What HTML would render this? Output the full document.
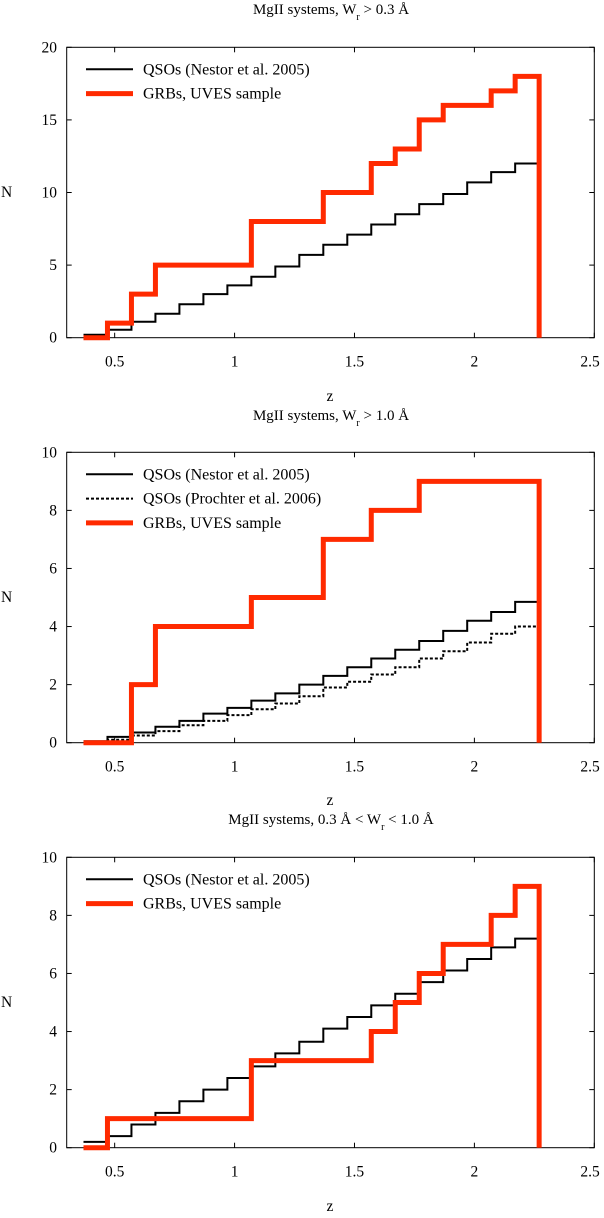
<!DOCTYPE html>
<html><head><meta charset="utf-8"><style>
body{margin:0;background:#fff}
svg text{font-family:"Liberation Serif",serif;fill:#000}
</style></head><body>
<svg id="s" width="604" height="1213" viewBox="0 0 604 1213"></svg>
<script>
const binEdgesStart = 0.37;
const binWidth = 0.1;
const xTicks = [0.5, 1, 1.5, 2, 2.5];
const xTickLabels = ["0.5", "1", "1.5", "2", "2.5"];
const p1YTicks = [0, 5, 10, 15, 20];
const p23YTicks = [0, 2, 4, 6, 8, 10];
const p1Red = [0,1,3,5,5,5,5,8,8,8,10,10,12,13,15,16,16,17,18];
const p1Black = [0.2,0.55,1.1,1.65,2.3,3.0,3.6,4.2,4.9,5.7,6.4,7.1,7.8,8.5,9.2,9.9,10.7,11.4,12];
const p2Red = [0,0,2,4,4,4,4,5,5,5,7,7,8,8,9,9,9,9,9];
const p2Black = [0.05,0.2,0.35,0.55,0.75,1.0,1.2,1.45,1.7,2.0,2.3,2.6,2.9,3.2,3.5,3.85,4.2,4.5,4.85];
const p2Dotted = [0.02,0.1,0.25,0.4,0.6,0.75,0.95,1.15,1.35,1.6,1.9,2.1,2.35,2.6,2.9,3.15,3.45,3.75,4.0];
const p3Red = [0,1,1,1,1,1,1,3,3,3,3,3,4,5,6,7,7,8,9];
const p3Black = [0.2,0.4,0.8,1.2,1.6,2.0,2.4,2.8,3.25,3.65,4.1,4.5,4.9,5.3,5.7,6.1,6.5,6.9,7.2];

const NS="http://www.w3.org/2000/svg";
const svg=document.getElementById('s');
function mk(t,a,p){const e=document.createElementNS(NS,t);for(const k in a)e.setAttribute(k,a[k]);(p||svg).appendChild(e);return e;}
const L=66.7,R=594.3,XMIN=0.3,XMAX=2.5;
const xs=z=>L+(z-XMIN)/(XMAX-XMIN)*(R-L);

function panel(idx,top,bot,ymax,yTicks,series,legend,title,titleY,zY,nY){
  const g=mk('g',{});
  
  
  const ys=v=>bot-v/ymax*(bot-top);
  const t=mk('text',{x:331,y:titleY,'text-anchor':'middle','font-size':15},g);
  
  
  t.innerHTML=title;
  const fr=mk('rect',{x:L,y:top,width:R-L,height:bot-top,fill:'none',stroke:'#000','stroke-width':1},g);
  
  
  xTicks.forEach((v,i)=>{
    const x=xs(v);
    mk('line',{x1:x,y1:bot,x2:x,y2:bot-5,stroke:'#000'},g);
    mk('line',{x1:x,y1:top,x2:x,y2:top+5,stroke:'#000'},g);
    const tl=mk('text',{x:Math.min(x,590),y:bot+29,'text-anchor':'middle','font-size':15.5},g);
    
    
    tl.textContent=xTickLabels[i];
  });
  yTicks.forEach(v=>{
    const y=ys(v);
    mk('line',{x1:L,y1:y,x2:L+5,y2:y,stroke:'#000'},g);
    mk('line',{x1:R,y1:y,x2:R-5,y2:y,stroke:'#000'},g);
    const tl=mk('text',{x:57,y:y+5,'text-anchor':'end','font-size':15.5},g);
    
    
    tl.textContent=String(v);
  });
  const zl=mk('text',{x:330,y:zY,'text-anchor':'middle','font-size':15.5},g);
  
  
  zl.textContent='z';
  const nl=mk('text',{x:1,y:nY,'font-size':15.5},g);
  
  
  nl.textContent='N';
  series.forEach(s=>{
    let d='';
    s.data.forEach((v,i)=>{
      const x0=xs(binEdgesStart+i*binWidth),x1=xs(binEdgesStart+(i+1)*binWidth),y=ys(v);
      d+=(i===0?'M':'L')+x0+','+y+'L'+x1+','+y;
    });
    if(s.drop)d+='L'+xs(binEdgesStart+s.data.length*binWidth)+','+ys(0);
    const p=mk('path',{d:d,fill:'none',stroke:s.color,'stroke-width':s.w,'stroke-dasharray':s.dash||'none','stroke-linejoin':'miter'},g);
    
    
  });
  legend.forEach((l,i)=>{
    const y=top+22+i*24.3;
    const e=mk('g',{},g);
    
    
    mk('line',{x1:86,y1:y,x2:133,y2:y,stroke:l.color,'stroke-width':l.w,'stroke-dasharray':l.dash||'none'},e);
    const tx=mk('text',{x:143,y:y+5,'font-size':16},e);
    tx.textContent=l.label;
  });
}
const red='#ff2a00';
panel(1,47.3,337.7,20,p1YTicks,
 [{data:p1Black,color:'#000',w:2,name:'qso-nestor-series'},{data:p1Red,color:red,w:5,drop:true,name:'grb-uves-series'}],
 [{color:'#000',w:2,label:'QSOs (Nestor et al. 2005)'},{color:red,w:5,label:'GRBs, UVES sample'}],
 'MgII systems, W<tspan baseline-shift="sub" font-size="10">r</tspan> &gt; 0.3 Å',14,401,197);
panel(2,452.3,742.7,10,p23YTicks,
 [{data:p2Black,color:'#000',w:2,name:'qso-nestor-series'},{data:p2Dotted,color:'#000',w:2,dash:'3,2',name:'qso-prochter-series'},{data:p2Red,color:red,w:5,drop:true,name:'grb-uves-series'}],
 [{color:'#000',w:2,label:'QSOs (Nestor et al. 2005)'},{color:'#000',w:2,dash:'3,2',label:'QSOs (Prochter et al. 2006)'},{color:red,w:5,label:'GRBs, UVES sample'}],
 'MgII systems, W<tspan baseline-shift="sub" font-size="10">r</tspan> &gt; 1.0 Å',420,805,602);
panel(3,857.3,1147.7,10,p23YTicks,
 [{data:p3Black,color:'#000',w:2,name:'qso-nestor-series'},{data:p3Red,color:red,w:5,drop:true,name:'grb-uves-series'}],
 [{color:'#000',w:2,label:'QSOs (Nestor et al. 2005)'},{color:red,w:5,label:'GRBs, UVES sample'}],
 'MgII systems, 0.3 Å &lt; W<tspan baseline-shift="sub" font-size="10">r</tspan> &lt; 1.0 Å',824,1211,1007);
</script>
</body></html>
